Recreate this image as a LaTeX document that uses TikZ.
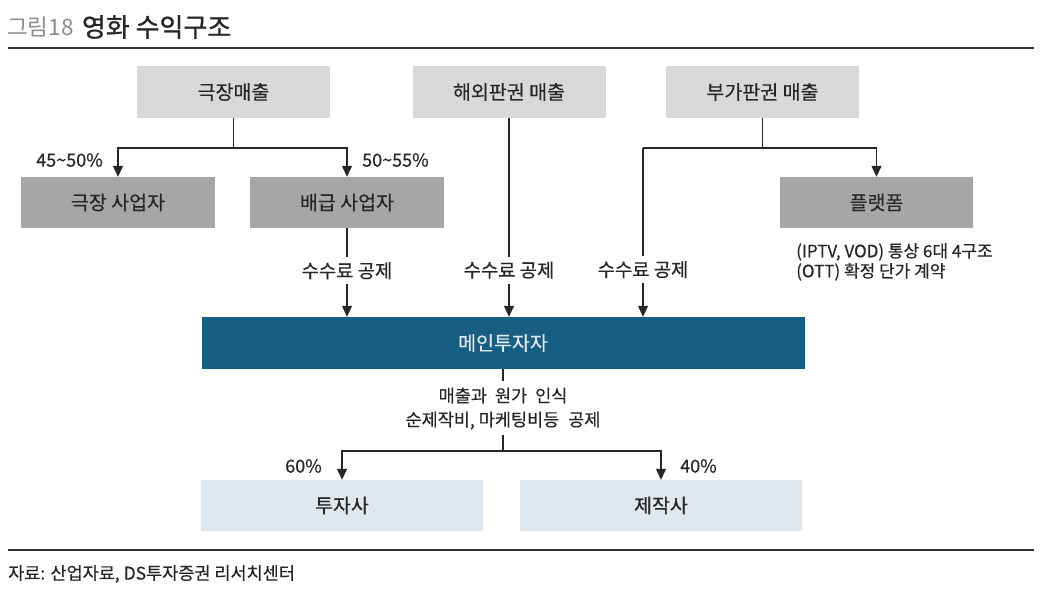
\documentclass[tikz,border=0pt]{standalone}
\usepackage{fontspec}
\setmainfont{Noto Sans CJK KR}[FakeBold=0.3]
\newfontfamily\titlefont{Noto Sans CJK KR}[FakeBold=0.9]
\newfontfamily\numfont{Noto Sans CJK KR}
\usetikzlibrary{arrows.meta}
\definecolor{lgray}{HTML}{D9D9D9}
\definecolor{dgray}{HTML}{A6A6A6}
\definecolor{mainblue}{HTML}{175E82}
\definecolor{lblue}{HTML}{DEE8EE}
\definecolor{txt}{HTML}{262626}
\definecolor{rule}{HTML}{333333}
\definecolor{numgray}{HTML}{8C8C8C}
\tikzset{
  box/.style={draw=none, minimum width=193pt, minimum height=52pt, inner sep=0pt, text=txt, font=\fontsize{19.5}{22}\selectfont},
  topbox/.style={box, fill=lgray},
  midbox/.style={box, fill=dgray, minimum height=51pt},
  lowbox/.style={box, fill=lblue, minimum width=282pt, minimum height=51pt},
  conn/.style={draw=txt, line width=1.2pt},
  arr/.style={conn, -{Triangle[width=10pt,length=11pt]}},
  lbl/.style={text=txt, font=\fontsize{18}{20}\selectfont, inner sep=1pt},
  cut/.style={lbl, fill=white, inner xsep=2pt, inner ysep=5pt, font=\fontsize{18.8}{20}\selectfont}
}
\begin{document}
\begin{tikzpicture}[x=1pt,y=-1pt]
\useasboundingbox (0,0) rectangle (1044,590);
\fill[white] (0,0) rectangle (1044,590);
% title
\node[anchor=west, inner sep=0pt, text=numgray, font=\numfont\fontsize{22.5}{24}\selectfont] (tnum) at (7,27) {그림18};
\node[anchor=west, inner sep=0pt, text=txt, font=\titlefont\fontsize{26}{28}\selectfont] (ttl) at ([xshift=8pt]tnum.east) {영화 수익구조};
\coordinate (r1a) at (8,48); \coordinate (r1b) at (1034,48);
\draw[rule, line width=1.5pt] (r1a) -- (r1b);
% top boxes
\node[topbox] (gk) at (233.5,92) {극장매출};
\node[topbox] (hw) at (509,92) {해외판권 매출};
\node[topbox] (bg) at (762.5,92) {부가판권 매출};
% second row
\node[midbox, minimum width=194pt] (gs) at (118,202.5) {극장 사업자};
\node[midbox, minimum width=194pt] (bs) at (347,202.5) {배급 사업자};
\node[midbox] (pf) at (876.5,202.5) {플랫폼};
% main
\node[box, fill=mainblue, minimum width=603pt, text=lblue] (mn) at (503,343) {메인투자자};
% bottom
\node[lowbox] (inv) at (342,505.5) {투자사};
\node[lowbox] (prd) at (661,505.5) {제작사};
% theatre split
\coordinate (j1) at (233.5,148);
\draw[conn] (gk.south) -- (j1);
\draw[arr] (j1) -| (gs.north);
\draw[arr] (j1) -| (bs.north);
\node[lbl, anchor=east] (p1) at (104,160) {45\textasciitilde50\%};
\node[lbl, anchor=west] (p2) at (361,160) {50\textasciitilde55\%};
% fees
\draw[arr] (bs.south) -- (bs.south |- mn.north) node[cut, pos=0.48] (f1) {수수료 공제};
\draw[arr] (hw.south) -- (hw.south |- mn.north) node[cut, pos=0.765] (f2) {수수료 공제};
\coordinate (j2) at (762.5,148);
\coordinate (j2l) at (643,148);
\draw[conn] (bg.south) -- (j2);
\draw[arr] (j2) -| (pf.north);
\draw[conn] (j2) -- (j2l);
\draw[arr] (j2l) -- (j2l |- mn.north) node[cut, pos=0.72] (f3) {수수료 공제};
% platform note
\node[lbl, anchor=north west, align=left, font=\fontsize{17}{20}\selectfont, inner sep=0pt] (note) at (796,243) {(IPTV, VOD) 통상 6대 4구조\\(OTT) 확정 단가 계약};
% main split
\node[lbl, align=center, font=\fontsize{17.5}{24}\selectfont, inner sep=0pt] (mid) at (503,408.5) {매출과\hspace{8pt}원가\hspace{8pt}인식\\순제작비, 마케팅비등\hspace{9pt}공제};
\coordinate (m1) at (503,381);
\coordinate (m2) at (503,435);
\coordinate (j3) at (503,451);
\draw[conn] (mn.south) -- (m1);
\draw[conn] (m2) -- (j3);
\draw[arr] (j3) -| (inv.north);
\draw[arr] (j3) -| (prd.north);
\node[lbl, anchor=east] (p3) at (323,466) {60\%};
\node[lbl, anchor=west] (p4) at (679,466) {40\%};
% source
\coordinate (r2a) at (8,550); \coordinate (r2b) at (1034,550);
\draw[rule, line width=1.5pt] (r2a) -- (r2b);
\node[anchor=west, inner sep=0pt, text=txt, font=\fontsize{17.5}{20}\selectfont] (src) at (8,574) {자료: 산업자료, DS투자증권 리서치센터};
\end{tikzpicture}
\end{document}
